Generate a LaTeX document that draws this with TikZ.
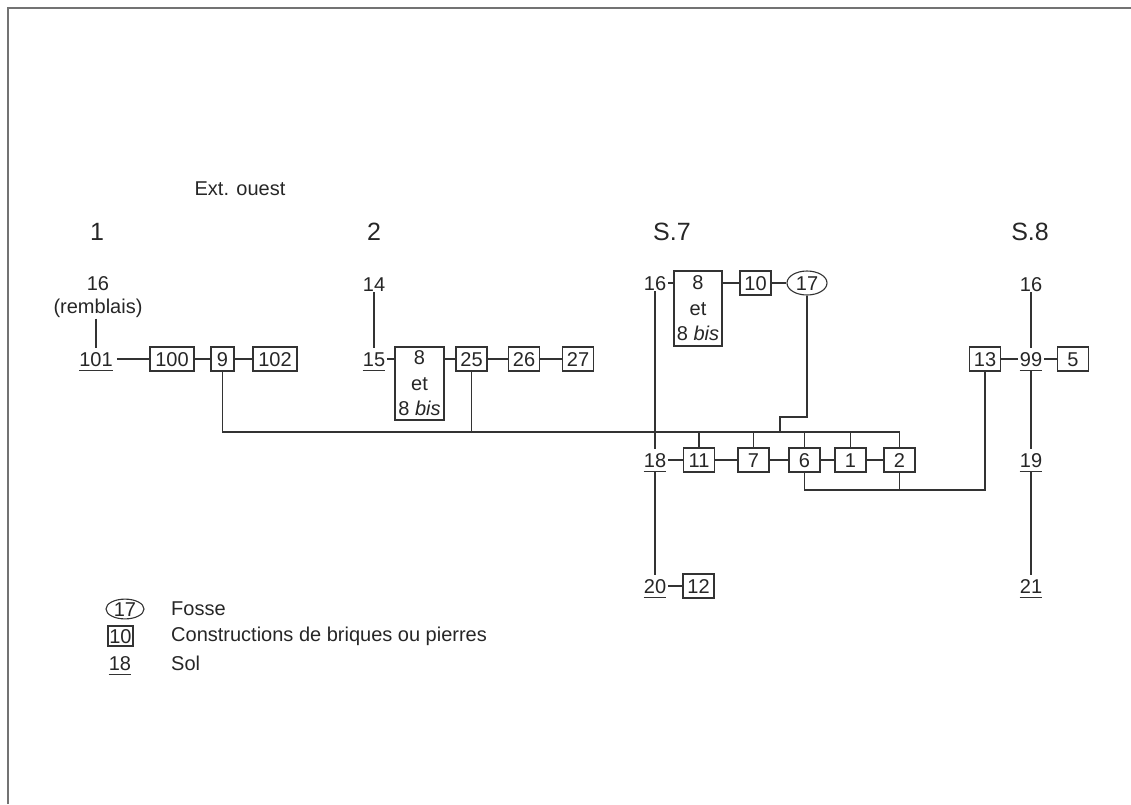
\documentclass[tikz,border=0pt]{standalone}
\usepackage{fontspec}
\setmainfont{Liberation Sans}
\usetikzlibrary{shapes.geometric}
\begin{document}
\begin{tikzpicture}[x=1pt,y=-1pt,
  every node/.style={font=\fontsize{20}{25.5}\selectfont, text=black!85},
  ln/.style={line width=1.1pt, draw=black!80},
  lbl/.style={inner xsep=0pt, inner ysep=1pt, text height=14pt, text depth=0pt},
  sol/.style={inner xsep=0pt, inner ysep=4pt, text height=14pt, text depth=0pt},
  bx/.style={draw=black!80, line width=1.1pt, inner xsep=4pt, inner ysep=5pt, text height=14pt, text depth=0pt, minimum width=31pt, minimum height=24pt},
  bigbx/.style={draw=black!80, line width=1.1pt, align=center, inner sep=0pt, minimum width=48pt, minimum height=75pt},
  fosse/.style={draw=black!80, line width=1.1pt, ellipse, inner sep=0pt, text height=14pt, text depth=0pt, minimum width=40pt, minimum height=24pt},
  hdr/.style={font=\fontsize{25}{28}\selectfont, inner sep=0pt},
  ul/.style={line width=1.1pt, draw=black!80}
]
\useasboundingbox (0,0) rectangle (1131,804);
% frame
\draw[line width=2pt, draw=black!55] (8,804) -- (8,8) -- (1131,8);

% titles
\node[inner sep=0pt] (ext) at (240,189) {Ext. ouest};
\node[hdr] (h1) at (97,232) {1};
\node[hdr] (h2) at (374,232) {2};
\node[hdr] (h7) at (672,232) {S.7};
\node[hdr] (h8) at (1030,232) {S.8};

% column 1
\node[lbl] (a16) at (98,283) {16};
\node[inner sep=1pt] (arem) at (98,308) {(remblais)};
\node[sol] (n101) at (96,359) {101};
\node[bx, minimum width=44pt] (b100) at (172,359) {100};
\node[bx, minimum width=23pt] (b9) at (222.5,359) {9};
\node[bx, minimum width=44pt] (b102) at (275,359) {102};
\draw[ln] (arem.south -| n101.north) -- (n101.north);
\draw[ln, shorten <=4pt] (n101.east) -- (b100.west);
\draw[ln] (b100) -- (b9);
\draw[ln] (b9) -- (b102);

% column 2
\node[lbl] (b14) at (374,284) {14};
\node[sol] (n15) at (374,359) {15};
\node[bigbx, minimum height=73pt, minimum width=49pt] (b8a) at (419.5,383.5) {8\\et\\8 \textit{bis}};
\node[bx] (b25) at (471.5,359) {25};
\node[bx] (b26) at (524,359) {26};
\node[bx] (b27) at (578,359) {27};
\draw[ln] (b14.south) -- (n15.north);
\draw[ln, shorten <=2pt] (n15.east) -- (n15.east -| b8a.west);
\draw[ln] (b8a.east |- b25.west) -- (b25.west);
\draw[ln] (b25) -- (b26);
\draw[ln] (b26) -- (b27);

% column S.7
\node[lbl] (c16) at (655,283) {16};
\node[bigbx] (b8b) at (698,308.5) {8\\et\\8 \textit{bis}};
\node[bx] (b10) at (755.5,283) {10};
\node[fosse] (e17) at (807,283) {17};
\node[sol] (n18) at (655,460) {18};
\node[bx] (b11) at (699,460) {11};
\node[bx] (b7) at (753.5,460) {7};
\node[bx] (b6) at (804.5,460) {6};
\node[bx] (b1) at (850.5,460) {1};
\node[bx] (b2) at (899.5,460) {2};
\node[sol] (n20) at (655,586) {20};
\node[bx] (b12) at (698.5,586) {12};
\draw[ln, shorten <=2pt] (c16.east) -- (c16.east -| b8b.west);
\draw[ln] (b8b.east |- b10.west) -- (b10.west);
\draw[ln] (b10) -- (e17);
\draw[ln] (c16.south) -- (n18.north);
\draw[ln, shorten <=2pt] (n18.east) -- (b11.west);
\draw[ln] (b11) -- (b7);
\draw[ln] (b7) -- (b6);
\draw[ln] (b6) -- (b1);
\draw[ln] (b1) -- (b2);
\draw[ln] (n18.south) -- (n20.north);
\draw[ln, shorten <=2pt] (n20.east) -- (b12.west);

% column S.8
\node[lbl] (d16) at (1031,284) {16};
\node[bx] (b13) at (985,359) {13};
\node[sol] (n99) at (1031,359) {99};
\node[bx] (b5) at (1073,359) {5};
\node[sol] (n19) at (1031,460) {19};
\node[sol] (n21) at (1031,586) {21};
\draw[ln] (d16.south) -- (n99.north);
\draw[ln, shorten >=2pt] (b13.east) -- (n99.west);
\draw[ln, shorten <=2pt] (n99.east) -- (b5.west);
\draw[ln] (n99.south) -- (n19.north);
\draw[ln] (n19.south) -- (n21.north);

% bus lines
\coordinate (bus) at (0,432);
\coordinate (loop) at (0,490);
\coordinate (elb) at (0,417);
\coordinate (xj) at (780,0);
\draw[ln] (b9.south) -- (b9.south |- bus) -- (bus -| b2.north) -- (b2.north);
\draw[ln] (b25.south) -- (b25.south |- bus);
\draw[ln] (b11.north) -- (b11.north |- bus);
\draw[ln] (b7.north) -- (b7.north |- bus);
\draw[ln] (b6.north) -- (b6.north |- bus);
\draw[ln] (b1.north) -- (b1.north |- bus);
\draw[ln] (e17.south) -- (e17.south |- elb) -- (xj |- elb) -- (xj |- bus);
\draw[ln] (b6.south) -- (b6.south |- loop) -- (b13.south |- loop) -- (b13.south);
\draw[ln] (b2.south) -- (b2.south |- loop);

% legend
\node[fosse, minimum width=38pt, minimum height=18pt] (le) at (125,609) {17};
\node[bx, minimum width=25pt, minimum height=20pt, inner xsep=1pt, inner ysep=3pt] (lb) at (120.5,636) {10};
\node[sol] (ls) at (120,663) {18};
\node[anchor=west, inner sep=0pt] (lt1) at (171,609) {Fosse};
\node[anchor=west, inner sep=0pt] (lt2) at (171,636) {Constructions de briques ou pierres};
\node[anchor=west, inner sep=0pt] (lt3) at (171,663) {Sol};

% underlines
\foreach \n in {n101,n15,n18,n20,n99,n19,n21,ls}
  \draw[ul] (\n.south west) -- (\n.south east);
\end{tikzpicture}
\end{document}
